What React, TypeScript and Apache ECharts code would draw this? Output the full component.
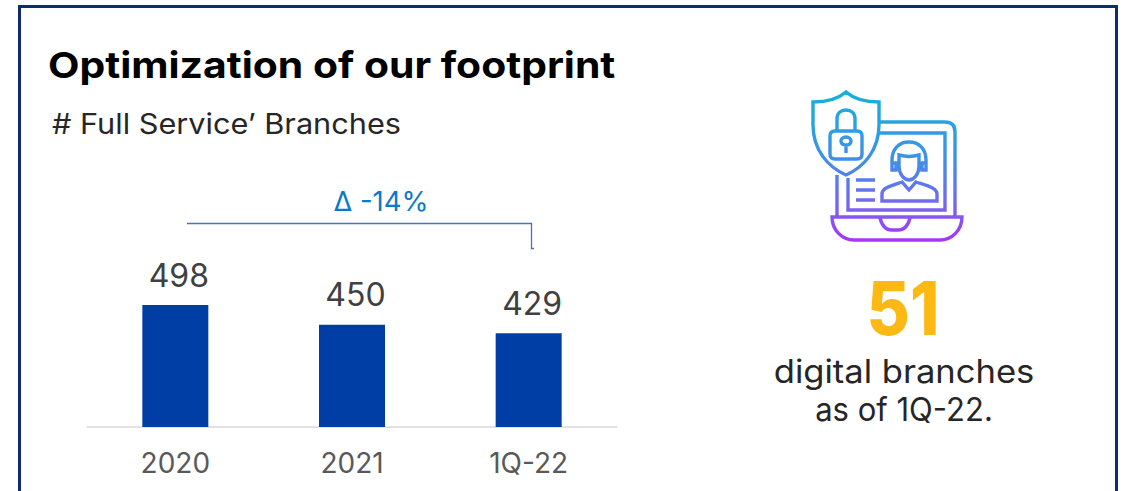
import React, { useEffect, useRef } from "react";
import * as echarts from "echarts";

const categories = ["2020", "2021", "1Q-22"];
const branches = [498, 450, 429];
const titleText = "Optimization of our footprint";
const subtitleText = "# Full Service’ Branches";
const deltaText = "Δ -14%";
const digitalCount = "51";
const digitalLines = ["digital branches", "as of 1Q-22."];

const FONT = "Inter, 'Open Sans', sans-serif";

const iconPath = [
  "M846 92 C838 99 826 102 813 102 L813 125 C813 150 828 167 846 175 C864 167 879 150 879 125 L879 102 C866 102 854 99 846 92 Z",
  "M835 131 L857 131 Q862 131 862 136 L862 154 Q862 159 857 159 L835 159 Q830 159 830 154 L830 136 Q830 131 835 131 Z",
  "M837 131 L837 119 C837 113 841 110 846 110 C851 110 855 113 855 119 L855 131",
  "M846 137 C849 137 851 139 851 141 C851 144 849 145 846 145 C843 145 841 144 841 141 C841 139 843 137 846 137 Z M846 145 L846 153",
  "M879 122 L945 122 Q955 122 955 132 L955 217",
  "M837 175 L837 217",
  "M879 133 L945 133 L945 210 L848 210 L848 178",
  "M832 217 L962 217 C962 230 952 240 940 240 L854 240 C842 240 832 230 832 217 Z",
  "M880 218 C882 226 886 230 892 230 L898 230 C904 230 908 226 910 218",
  "M892 168 L892 160 C892 149 899 142 909 142 C919 142 926 149 926 160 L926 168",
  "M892 163 L896 163 L896 170 L892 170 Z M922 163 L926 163 L926 170 L922 170 Z",
  "M899 155 C906 157 912 157 919 155 L919 166 C919 174 914 180 909 180 C904 180 899 174 899 166 Z",
  "M882 201 L882 194 C882 188 890 186 902 182 L909 190 L916 182 C928 186 937 188 937 194 L937 201 Z",
  "M856 180 L875 180 M856 190 L875 190 M856 200 L875 200",
].join(" ");

echarts.graphic.registerShape("footprintIcon", echarts.graphic.extendPath(iconPath, {}));

export default function App() {
  const ref = useRef<HTMLDivElement>(null);
  useEffect(() => {
    const chart = echarts.init(ref.current!, undefined, { renderer: "svg", width: 1125, height: 491 });
    chart.setOption({
      animation: false,
      backgroundColor: "#ffffff",
      grid: { left: 87, top: 304.2, width: 530, height: 122.8, containLabel: false },
      xAxis: {
        type: "category",
        data: categories,
        axisTick: { show: false },
        axisLine: { lineStyle: { color: "#d9d9d9", width: 1.5 } },
        axisLabel: { color: "#595959", fontFamily: FONT, fontSize: 28, margin: 22 },
      },
      yAxis: { type: "value", min: 200, max: 500, show: false, splitLine: { show: false } },
      series: [
        {
          type: "bar",
          data: branches,
          barWidth: 66,
          itemStyle: { color: "#003DA5" },
          label: { show: true, position: "top", distance: 14, offset: [3.5, 0], color: "#404040", fontFamily: FONT, fontSize: 32 },
        },
      ],
      graphic: [
        { type: "rect", shape: { x: 19.5, y: 6.5, width: 1097, height: 500 }, style: { fill: "none", stroke: "#0F2D6E", lineWidth: 3 } },
        { type: "text", x: 48, y: 65, scaleX: 1.135, style: { text: titleText, fill: "#000000", font: `700 36px ${FONT}`, textVerticalAlign: "middle" } },
        { type: "text", x: 52, y: 124, scaleX: 1.096, style: { text: subtitleText, fill: "#262626", font: `400 28px ${FONT}`, textVerticalAlign: "middle" } },
        { type: "text", x: 381, y: 201, style: { text: deltaText, fill: "#0B78C9", font: `400 27.5px ${FONT}`, textAlign: "center", textVerticalAlign: "middle" } },
        { type: "polyline", shape: { points: [[187, 223.5], [531.5, 223.5], [531.5, 248.5], [534, 248.5]] }, style: { fill: "none", stroke: "#4472C4", lineWidth: 1.3 } },
        {
          type: "footprintIcon",
          style: {
            fill: "none",
            lineWidth: 3.4,
            stroke: new echarts.graphic.LinearGradient(0, 0, 0, 1, [
              { offset: 0, color: "#16B0DC" },
              { offset: 0.45, color: "#3F90E8" },
              { offset: 0.75, color: "#7468F0" },
              { offset: 1, color: "#A636F8" },
            ]),
          },
        },
        { type: "text", x: 903, y: 308, scaleX: 0.9, style: { text: digitalCount, fill: "#FDB913", font: `800 74px ${FONT}`, textAlign: "center", textVerticalAlign: "middle" } },
        { type: "text", x: 904, y: 371, scaleX: 1.08, style: { text: digitalLines[0], fill: "#262626", font: `400 32px ${FONT}`, textAlign: "center", textVerticalAlign: "middle" } },
        { type: "text", x: 904, y: 409, scaleX: 0.97, style: { text: digitalLines[1], fill: "#262626", font: `400 32px ${FONT}`, textAlign: "center", textVerticalAlign: "middle" } },
      ],
    });
    return () => chart.dispose();
  }, []);
  return <div ref={ref} style={{ position: "absolute", left: 0, top: 0, width: 1125, height: 491 }} />;
}
